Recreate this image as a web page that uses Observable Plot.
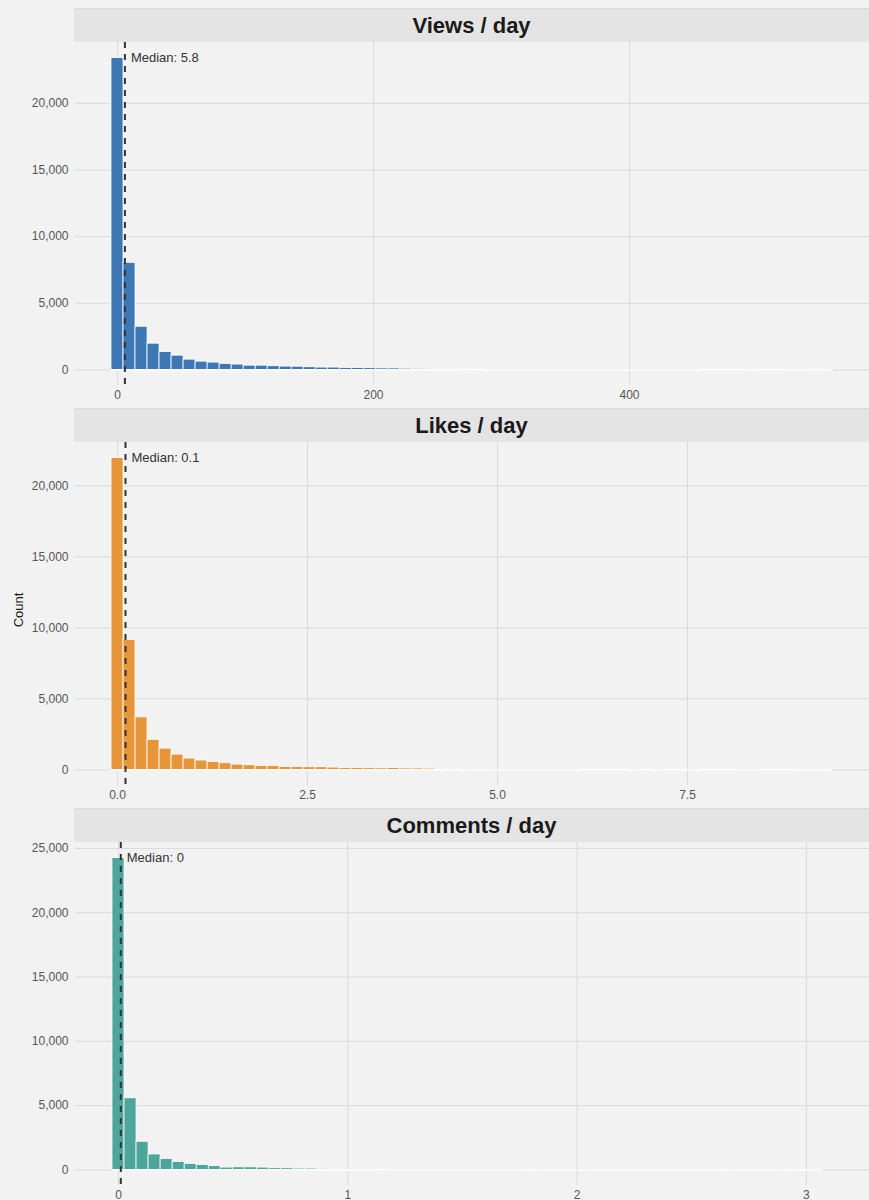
<!DOCTYPE html>
<html><head><meta charset="utf-8">
<script src="https://cdn.jsdelivr.net/npm/d3@7"></script>
<script src="https://cdn.jsdelivr.net/npm/@observablehq/plot@0.6"></script>
<style>
body{margin:0;background:#f2f2f2;font-family:"Liberation Sans",Arial,sans-serif;}
#wrap{position:relative;width:869px;padding-top:8px;}
.strip{margin-left:74px;width:795px;height:34px;background:#e4e4e4;border-top:1px solid #dadada;box-sizing:border-box;text-align:center;font-weight:bold;font-size:22px;line-height:33px;color:#1a1a1a;}
#ylab{position:absolute;left:18px;top:610px;transform:translate(-50%,-50%) rotate(-90deg);font-size:13px;color:#1a1a1a;white-space:nowrap;}
svg{display:block;}
</style></head><body><div id="wrap"><div id="ylab">Count</div></div>
<script>
// Panel titles
const titles = ["Views / day", "Likes / day", "Comments / day"];
const colors = ["#3D77B4", "#E69639", "#4EA59B"];
// Histogram bin widths (first bin centred on 0)
const binWidths = [9.39, 0.158, 0.0525];
// Counts per bin
const viewsCounts = [23400, 8040, 3240, 1970, 1350, 1070, 770, 620, 550, 450,
  400, 320, 320, 275, 250, 240, 200, 175, 175, 150,
  150, 130, 110, 110, 90, 80, 70, 40, 35, 30,
  25, 0, 0, 0, 0, 0, 0, 0, 0, 0,
  0, 0, 0, 0, 0, 0, 0, 0, 0, 25,
  25, 25, 25, 5, 25, 25, 10, 20, 20, 20];
const likesCounts = [21950, 9150, 3700, 2120, 1500, 1080, 800, 660, 565, 470,
  375, 330, 280, 280, 210, 210, 190, 190, 165, 140,
  140, 120, 110, 130, 100, 100, 90, 70, 60, 0,
  15, 0, 0, 0, 0, 0, 0, 0, 0, 30,
  30, 30, 25, 0, 25, 0, 25, 25, 0, 30,
  30, 30, 0, 0, 25, 25, 25, 15, 10, 10];
const commentsCounts = [24250, 5570, 2190, 1200, 860, 625, 470, 390, 290, 180,
  200, 200, 180, 130, 130, 100, 100, 80, 50, 50,
  40, 35, 30, 0, 0, 0, 0, 0, 0, 0,
  0, 0, 0, 0, 15, 0, 15, 15, 0, 0,
  15, 15, 15, 15, 15, 10, 15, 15, 15, 15,
  10, 0, 15, 15, 15, 0, 15, 15, 10];
// Medians
const medians = [5.8, 0.105, 0.01];
const medianLabels = ["Median: 5.8", "Median: 0.1", "Median: 0"];
// Axis ticks
const xTicksList = [[0, 200, 400], [0, 2.5, 5, 7.5], [0, 1, 2, 3]];
const xFormats = [d3.format("d"), d3.format(".1f"), d3.format("d")];
const yTicksList = [[0, 5000, 10000, 15000, 20000], [0, 5000, 10000, 15000, 20000], [0, 5000, 10000, 15000, 20000, 25000]];
// x scale limits
const xDomains = [[-32.8, 587.5], [-0.553, 9.895], [-0.1875, 3.275]];

const allCounts = [viewsCounts, likesCounts, commentsCounts];
const wrap = document.getElementById("wrap");
const font = '"Liberation Sans", Arial, sans-serif';

allCounts.forEach((counts, p) => {
  const w = binWidths[p];
  const bins = counts.map((c, i) => ({x1: i * w - w / 2, x2: i * w + w / 2, count: c}));
  const ymax = d3.max(counts);
  const lo = bins[0].x1, hi = bins[bins.length - 1].x2;
  const strip = document.createElement("div");
  strip.className = "strip";
  strip.textContent = titles[p];
  wrap.appendChild(strip);
  const chart = Plot.plot({
    width: 869, height: 366,
    marginLeft: 75, marginRight: 0, marginTop: 0, marginBottom: 23,
    style: {background: "transparent", fontFamily: font, fontSize: "12px", color: "#555"},
    x: {domain: xDomains[p]},
    y: {domain: [-0.05 * ymax, 1.05 * ymax]},
    marks: [
      Plot.gridX(xTicksList[p], {stroke: "#dadada", strokeOpacity: 1, strokeWidth: 1}),
      Plot.gridY(yTicksList[p], {stroke: "#dadada", strokeOpacity: 1, strokeWidth: 1}),
      Plot.rectY(bins.filter(d => d.count > 0), {x1: "x1", x2: "x2", y1: 0, y2: "count", fill: colors[p], stroke: "white", strokeWidth: 0.8}),
      Plot.ruleY([0], {x1: lo, x2: hi, stroke: "white", strokeWidth: 1.5}),
      Plot.ruleX([medians[p]], {stroke: "#333", strokeWidth: 2, strokeDasharray: "6,6"}),
      Plot.text([medianLabels[p]], {x: medians[p], frameAnchor: "top", lineAnchor: "middle", dx: 6, dy: 15, textAnchor: "start", fontSize: 13, fill: "#333", text: d => d}),
      Plot.axisX(xTicksList[p], {tickSize: 0, tickPadding: 5, tickFormat: xFormats[p], label: null, fill: "#555"}),
      Plot.axisY(yTicksList[p], {tickSize: 0, tickPadding: 7, tickFormat: d3.format(","), label: null, fill: "#555"})
    ]
  });
  wrap.appendChild(chart);
});
</script>
</body></html>
